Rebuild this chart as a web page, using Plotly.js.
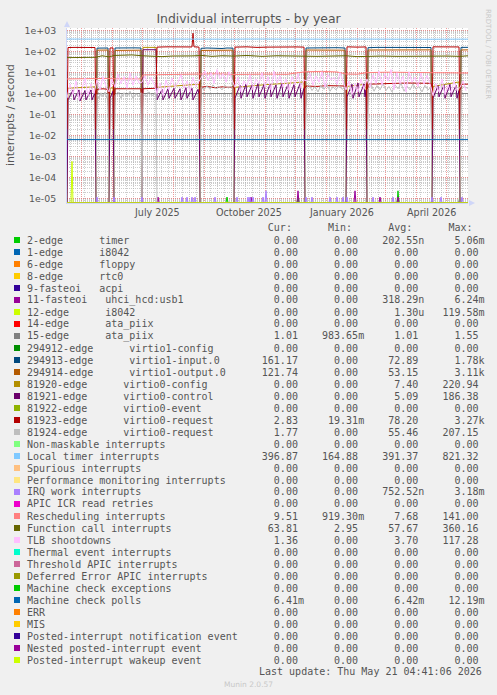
<!DOCTYPE html>
<html><head><meta charset="utf-8">
<script src="https://cdn.plot.ly/plotly-3.0.1.min.js"></script>
<style>html,body{margin:0;padding:0;background:#F0F0F0;}#chart{width:497px;height:695px;}</style>
</head><body><div id="chart"></div>
<script>
// ---------- legend labels, colours, statistics ----------
const labels = ["2-edge      timer","1-edge      i8042","6-edge      floppy","8-edge      rtc0","9-fasteoi   acpi","11-fasteoi   uhci_hcd:usb1","12-edge      i8042","14-edge      ata_piix","15-edge      ata_piix","294912-edge      virtio1-config","294913-edge      virtio1-input.0","294914-edge      virtio1-output.0","81920-edge      virtio0-config","81921-edge      virtio0-control","81922-edge      virtio0-event","81923-edge      virtio0-request","81924-edge      virtio0-request","Non-maskable interrupts","Local timer interrupts","Spurious interrupts","Performance monitoring interrupts","IRQ work interrupts","APIC ICR read retries","Rescheduling interrupts","Function call interrupts","TLB shootdowns","Thermal event interrupts","Threshold APIC interrupts","Deferred Error APIC interrupts","Machine check exceptions","Machine check polls","ERR","MIS","Posted-interrupt notification event","Nested posted-interrupt event","Posted-interrupt wakeup event"];
const colors = ["#00CC00","#0066B3","#FF8000","#FFCC00","#330099","#990099","#CCFF00","#FF0000","#808080","#008F00","#00487D","#B35A00","#B38F00","#6B006B","#8FB300","#B30000","#BEBEBE","#80FF80","#80C9FF","#FFC080","#FFE680","#AA80FF","#EE00CC","#FF8080","#666600","#FFBFFF","#00FFCC","#CC6699","#999900","#00CC00","#0066B3","#FF8000","#FFCC00","#330099","#990099","#CCFF00"];
const curVals = ["0.00","0.00","0.00","0.00","0.00","0.00","0.00","0.00","1.01","0.00","161.17","121.74","0.00","0.00","0.00","2.83","1.77","0.00","396.87","0.00","0.00","0.00","0.00","9.51","63.81","1.36","0.00","0.00","0.00","0.00","6.41m","0.00","0.00","0.00","0.00","0.00"];
const minVals = ["0.00","0.00","0.00","0.00","0.00","0.00","0.00","0.00","983.65m","0.00","0.00","0.00","0.00","0.00","0.00","19.31m","0.00","0.00","164.88","0.00","0.00","0.00","0.00","919.30m","2.95","0.00","0.00","0.00","0.00","0.00","0.00","0.00","0.00","0.00","0.00","0.00"];
const avgVals = ["202.55n","0.00","0.00","0.00","0.00","318.29n","1.30u","0.00","1.01","0.00","72.89","53.15","7.40","5.09","0.00","78.20","55.46","0.00","391.37","0.00","0.00","752.52n","0.00","7.68","57.67","3.70","0.00","0.00","0.00","0.00","6.42m","0.00","0.00","0.00","0.00","0.00"];
const maxVals = ["5.06m","0.00","0.00","0.00","0.00","6.24m","119.58m","0.00","1.55","0.00","1.78k","3.11k","220.94","186.38","0.00","3.27k","207.15","0.00","821.32","0.00","0.00","3.18m","0.00","141.00","360.16","117.28","0.00","0.00","0.00","0.00","12.19m","0.00","0.00","0.00","0.00","0.00"];

// ---------- axis labels ----------
const yTickVals = [1e-5,1e-4,1e-3,1e-2,1e-1,1,10,100,1000];
const yTickText = ["1e-05","1e-04","1e-03","1e-02","1e-01","1e+00","1e+01","1e+02","1e+03"];
const xLabelDates = ["2025-07-16","2025-10-16","2026-01-16","2026-04-16"];
const xLabelText = ["July 2025","October 2025","January 2026","April 2026"];

// ---------- series (day offsets from 2025-04-17) ----------
const red81923Days = [0,1,8,15,22,28,29,30,36,41,42,43,46,47,48,55,62,68,74,75,76,89,90,100,110,120,125,126,127,132,133,134,140,148,155,162,166,167,168,180,190,200,210,220,230,237,238,239,250,260,270,278,279,280,290,299,300,301,320,340,364,365,366,380,392,393,394,401];
const red81923Vals = [0.02,158,160,157,160,158,0.02,1.6,1.7,1.6,0.02,150,152,0.02,1.7,1.7,1.8,1.7,1.7,0.02,1.7,1.8,165,170,165,170,168,760,170,165,0.02,2.0,2.2,1.9,2.1,2.0,2.1,0.02,165,170,160,165,170,165,168,165,0.02,2.3,2.2,2.4,2.3,2.3,0.02,170,165,168,0.02,2.8,3.0,3.2,3.1,0.02,170,165,168,0.02,2.8,2.83];
const grey81924Days = [0,29,30,32,34,36,38,40,41,42,47,48,51,54,57,60,63,66,69,72,74,75,76,79,82,85,89,90,133,134,137,140,143,146,149,152,155,158,161,164,166,167,238,239,242,245,248,251,254,257,260,263,266,269,272,275,278,279,300,301,304,307,310,313,316,319,322,325,328,331,334,337,340,343,346,349,352,355,358,361,364,365,393,394,397,401];
const grey81924Vals = [0,0,0.9,0.6,1.1,0.7,1.2,0.6,1.0,0,0,0.8,1.2,0.6,1.1,0.7,1.3,0.6,1.0,0.7,1.1,0,1.0,0.7,1.2,0.8,1.1,0,0,2.0,1.5,2.4,1.6,2.6,1.7,2.2,1.5,2.5,1.8,2.3,1.7,0,0,1.8,2.6,1.4,2.2,1.2,2.5,1.6,2.7,1.3,2.1,1.5,2.4,1.6,2.0,0,0,1.6,2.8,1.3,2.4,1.5,3.0,1.4,2.2,1.2,2.6,1.7,3.1,1.3,2.3,1.5,2.9,1.6,2.2,1.2,2.5,1.5,2.0,0,0,1.5,2.2,1.77];
const blue294913Days = [0,29,30,35,41,42,47,48,55,62,68,74,75,133,134,140,145,150,155,160,166,167,238,239,250,260,270,278,279,300,301,310,320,330,340,350,364,365,393,394,401];
const blue294913Vals = [0,0,148,152,150,0,0,150,155,148,152,150,0,0,145,150,148,140,142,150,148,0,0,150,152,160,155,150,0,0,155,160,158,165,160,162,158,0,0,160,161];
const orange294914Days = [0,29,30,41,42,47,48,74,75,133,134,150,166,167,238,239,260,278,279,300,301,330,364,365,393,394,401];
const orange294914Vals = [0,0,118,120,0,0,115,118,0,0,115,117,118,0,0,120,117,118,0,0,120,123,122,0,0,121,121.74];
const gold81920Days = [0,1,10,20,28,29,42,43,46,47,75,76,82,89,90,100,110,120,132,133,167,168,185,200,215,230,237,238,279,280,290,299,300,365,366,380,392,393,401];
const gold81920Vals = [0,1.8,1.9,2.0,2.1,0,0,1.8,1.9,0,0,160,158,160,2.0,2.2,2.4,2.6,2.8,0,0,2.0,2.4,2.7,3.0,3.4,3.6,0,0,2.2,2.5,2.8,0,0,2.2,2.8,3.6,0,0];
const purple81921Days = [0,1,6,7,12,13,18,19,24,25,28,29,42,43,46,47,75,76,89,90,95,96,101,102,107,108,113,114,119,120,125,126,131,132,133,167,168,173,174,179,180,185,186,191,192,197,198,203,204,209,210,215,216,221,222,227,228,233,234,237,238,279,280,285,286,291,292,297,298,299,300,365,366,371,372,377,378,383,384,389,390,392,393,401];
const purple81921Vals = [0,0.5,1.5,0.5,1.5,0.45,1.4,0.5,1.5,0.5,1.1,0,0,0.6,1.3,0,0,124,124,0.5,1.6,0.5,1.7,0.6,1.8,0.6,1.7,0.5,1.9,0.6,1.8,0.5,1.6,0.9,0,0,0.6,2.5,0.6,2.8,0.7,2.6,0.6,3.0,0.7,2.7,0.6,2.9,0.7,2.6,0.6,3.1,0.7,2.8,0.6,2.7,0.7,3.0,0.6,1.8,0,0,0.7,2.8,0.6,3.2,0.7,2.9,0.7,1.5,0,0,0.6,2.4,0.7,2.6,0.6,2.8,0.7,2.5,0.6,1.4,0,0];
const locDays = [0,15,30,45,60,75,90,105,120,135,150,165,180,195,210,225,240,255,270,285,300,315,330,345,360,375,390,401];
const locVals = [400,395,398,392,396,390,395,400,393,398,390,395,402,396,390,385,392,398,395,400,393,388,395,398,392,395,398,396.87];
const calDays = [0,10,20,29,35,42,47,55,65,75,85,95,105,115,125,135,145,155,167,180,195,210,225,238,250,265,279,290,300,315,330,345,365,380,393,401];
const calVals = [52,53,51,54,64,57,66,68,70,64,60,58,62,60,63,66,60,64,62,66,60,64,62,65,60,62,64,58,60,62,60,62,64,62,60,63.81];
const resDays = [0,15,29,40,47,60,74,76,90,110,133,150,167,185,200,220,238,255,270,279,290,300,320,345,365,380,401];
const resVals = [5.0,5.2,5.0,5.3,5.1,5.2,5.0,7.8,8.0,7.8,8.4,8.8,8.2,8.0,8.5,8.3,11.0,11.5,10.8,8.6,8.4,10.0,10.5,10.2,9.6,9.8,9.51];
// TLB shootdowns, one reading every 3 days
const tlbVals = [0.6,2.8,0.9,4.0,0.5,1.8,5.5,0.8,3.0,1.0,
 4.5,1.5,6.5,2.2, 1.2,
 5.0,2.0,8.5,3.0,6.5,1.8,9.5,2.5,7.0,3.2,
 3.5,7.0,2.5,6.0,2.8,
 1.0,3.2,0.8,4.5,1.5,5.5,2.0,3.5,8.0,1.8,4.0,1.2,6.0,2.2,3.8,
 6.0,12.0,4.0,10.0,3.0,14.0,5.0,9.0,3.5,11.0,4.5,
 2.0,6.0,1.2,4.0,2.5,8.0,1.5,5.0,3.0,10.0,2.0,6.5,1.5,12.0,3.0,7.0,2.0,5.0,1.4,6.5,2.6,9.0,1.8,4.5,
 4.0,9.0,2.5,7.0,3.5,11.0,2.0,8.0,4.5,6.0,2.8,10.0,3.6,
 1.5,4.0,0.9,3.0,1.2,5.0,1.6,
 5.0,2.0,8.0,3.0,12.0,2.5,9.0,4.0,14.0,1.5,10.0,3.0,7.0,1.2,11.0,3.5,6.0,2.2,9.5,2.8,7.5,3.0,
 0.8,3.0,1.2,5.0,0.9,2.5,1.1,4.0,1.4,
 2.0,4.0,1.36];
const tlbDays = tlbVals.map((v,i)=>i*3);
const ata15Days = [0,401], ata15Vals = [1.01,1.01];
const mcpDays = [0,401], mcpVals = [0.0064,0.0064];
const iwSpikeDays = [30,47,75,115,120,125,128,148,170,181,183,186,196,199,239,245,263,270,276,280,306,326,365,374,395];
const iwSpikeVals = [1.16e-5,1.16e-5,1.16e-5,1.16e-5,1.16e-5,1.16e-5,1.16e-5,1.16e-5,1.16e-5,1.16e-5,1.16e-5,1.16e-5,1.16e-5,2.3e-5,1.16e-5,1.16e-5,1.16e-5,1.16e-5,1.16e-5,1.16e-5,1.16e-5,1.16e-5,1.16e-5,1.16e-5,1.16e-5];
const usbSpikeDays = [91,184,231,288,313,331,393];
const usbSpikeVals = [1.16e-5,1.16e-5,2.3e-5,2.3e-5,1.16e-5,1.16e-5,1.16e-5];
const timerSpikeDays = [160,231,331,393];
const timerSpikeVals = [1.16e-5,1.16e-5,2.3e-5,2.3e-5];
const kbdSpikeDays = [5];
const kbdSpikeVals = [5.8e-4];

// ---------- geometry ----------
const Y_MIN = -5.22, Y_MAX = 3.13, X_END = 401;
const FLOOR = Math.pow(10, Y_MIN + 0.015);
const PL = 67, PT = 28, PW = 401, PH = 175;
const fx = px => (px - PL) / PW;
const fy = py => (PT + PH - py) / PH;
const START = Date.UTC(2025, 3, 17);
const toDate = d => new Date(START + d * 86400000).toISOString().slice(0, 19).replace('T', ' ');

function spikes(days, vals) {
  const pts = [[0, 0], [X_END, 0]];
  days.forEach((d, i) => { pts.push([d - 1, 0], [d, vals[i]], [d + 1, 0]); });
  pts.sort((a, b) => a[0] - b[0]);
  return [pts.map(p => p[0]), pts.map(p => p[1])];
}
const seriesData = {
  0: spikes(timerSpikeDays, timerSpikeVals),
  5: spikes(usbSpikeDays, usbSpikeVals),
  6: spikes(kbdSpikeDays, kbdSpikeVals),
  8: [ata15Days, ata15Vals],
  10: [blue294913Days, blue294913Vals],
  11: [orange294914Days, orange294914Vals],
  12: [gold81920Days, gold81920Vals],
  13: [purple81921Days, purple81921Vals],
  15: [red81923Days, red81923Vals],
  16: [grey81924Days, grey81924Vals],
  18: [locDays, locVals],
  21: spikes(iwSpikeDays, iwSpikeVals),
  23: [resDays, resVals],
  24: [calDays, calVals],
  25: [tlbDays, tlbVals],
  30: [mcpDays, mcpVals]
};
const traces = labels.map((lab, i) => {
  const s = seriesData[i] || [[0, X_END], [0, 0]];
  return {
    type: 'scatter', mode: 'lines', name: lab,
    x: s[0].map(toDate),
    y: s[1].map(v => v > 0 ? v : FLOOR),
    line: { color: colors[i], width: 1 },
    hoverinfo: 'skip', showlegend: false
  };
});

// ---------- legend (text table) ----------
const nb = s => s.replace(/ /g, '\u00A0');
function fmt(s) {
  const m = s.match(/^([\d.]+)([a-zA-Z]?)$/);
  return m[1].padStart(6) + (m[2] || ' ');
}
const mono = { family: 'DejaVu Sans Mono', size: 10, color: '#555555' };
const annotations = [];
const shapes = [];
annotations.push({ xref: 'paper', yref: 'paper', x: fx(25.3), y: fy(227), xanchor: 'left', yanchor: 'middle', showarrow: false,
  text: nb(' '.repeat(40) + 'Cur:' + ' '.repeat(6) + 'Min:' + ' '.repeat(6) + 'Avg:' + ' '.repeat(6) + 'Max:'), font: mono });
labels.forEach((lab, i) => {
  const py = 240 + 12 * i;
  const line = lab.padEnd(39) + fmt(curVals[i]) + '   ' + fmt(minVals[i]) + '   ' + fmt(avgVals[i]) + '   ' + fmt(maxVals[i]);
  annotations.push({ xref: 'paper', yref: 'paper', x: fx(25.3), y: fy(py), xanchor: 'left', yanchor: 'middle', showarrow: false, text: nb(line), font: mono });
  shapes.push({ type: 'rect', xref: 'paper', yref: 'paper', x0: fx(14), x1: fx(20), y0: fy(py + 3), y1: fy(py - 3), fillcolor: colors[i], line: { width: 0 } });
});
annotations.push({ xref: 'paper', yref: 'paper', x: fx(484), y: fy(671), xanchor: 'right', yanchor: 'middle', showarrow: false,
  text: nb('Last update: Thu May 21 04:41:06 2026'), font: mono });
annotations.push({ xref: 'paper', yref: 'paper', x: fx(248), y: fy(684), xanchor: 'center', yanchor: 'middle', showarrow: false,
  text: 'Munin 2.0.57', font: { family: 'DejaVu Sans', size: 7.5, color: '#C8C8C8' } });
annotations.push({ xref: 'paper', yref: 'paper', x: fx(488), y: fy(54), xanchor: 'center', yanchor: 'middle', showarrow: false, textangle: 90,
  text: 'RRDTOOL / TOBI OETIKER', font: { family: 'DejaVu Sans', size: 7, color: '#C8C8C8' } });
annotations.push({ xref: 'paper', yref: 'paper', x: fx(10), y: fy(115), xanchor: 'center', yanchor: 'middle', showarrow: false, textangle: -90,
  text: 'interrupts / second', font: { family: 'DejaVu Sans', size: 10.8, color: '#555555' } });
xLabelDates.forEach((d, i) => {
  annotations.push({ xref: 'x', yref: 'paper', x: d, y: fy(212.7), xanchor: 'center', yanchor: 'middle', showarrow: false,
    text: xLabelText[i], font: { family: 'DejaVu Sans', size: 9.6, color: '#555555' } });
});
// axis arrows
shapes.push({ type: 'path', xref: 'paper', yref: 'paper', path: `M ${fx(64)} ${fy(27)} L ${fx(70)} ${fy(27)} L ${fx(67)} ${fy(21)} Z`, fillcolor: '#CFD6F8', line: { width: 0 } });
shapes.push({ type: 'path', xref: 'paper', yref: 'paper', path: `M ${fx(469)} ${fy(200)} L ${fx(469)} ${fy(206)} L ${fx(475)} ${fy(203)} Z`, fillcolor: '#CFD6F8', line: { width: 0 } });

const layout = {
  width: 497, height: 695,
  paper_bgcolor: '#F0F0F0', plot_bgcolor: '#FFFFFF',
  margin: { l: PL, r: 497 - PL - PW, t: PT, b: 695 - PT - PH, pad: 0 },
  showlegend: false,
  title: { text: 'Individual interrupts - by year', font: { family: 'DejaVu Sans', size: 12.4, color: '#555555' },
    xref: 'container', yref: 'container', x: 0.5, y: 1 - 19 / 695, xanchor: 'center', yanchor: 'middle' },
  xaxis: {
    type: 'date', range: [toDate(0), toDate(X_END)], showticklabels: false, ticks: '',
    tick0: '2025-05-01', dtick: 'M1', showgrid: true, gridcolor: 'rgba(235,120,120,0.75)', griddash: '1px,1px', gridwidth: 1,
    minor: { tick0: '2025-04-20', dtick: 7 * 86400000, showgrid: true, gridcolor: 'rgba(170,170,170,0.6)', griddash: '1px,1px', gridwidth: 1 },
    showline: true, linecolor: '#CFD6F8', zeroline: false, fixedrange: true, layer: 'below traces'
  },
  yaxis: {
    type: 'log', range: [Y_MIN, Y_MAX], tickmode: 'array', tickvals: yTickVals, ticktext: yTickText,
    showgrid: true, gridcolor: 'rgba(235,120,120,0.75)', griddash: '1px,1px', gridwidth: 1,
    minor: { tickmode: 'linear', dtick: 'D1', showgrid: true, gridcolor: 'rgba(170,170,170,0.6)', griddash: '1px,1px', gridwidth: 1 },
    tickfont: { family: 'DejaVu Sans', size: 9.4, color: '#555555' }, ticks: '', ticklabelstandoff: 8,
    showline: true, linecolor: '#CFD6F8', zeroline: false, fixedrange: true, layer: 'below traces'
  },
  annotations: annotations,
  shapes: shapes
};
Plotly.newPlot('chart', traces, layout, { staticPlot: true, displayModeBar: false });
</script></body></html>
